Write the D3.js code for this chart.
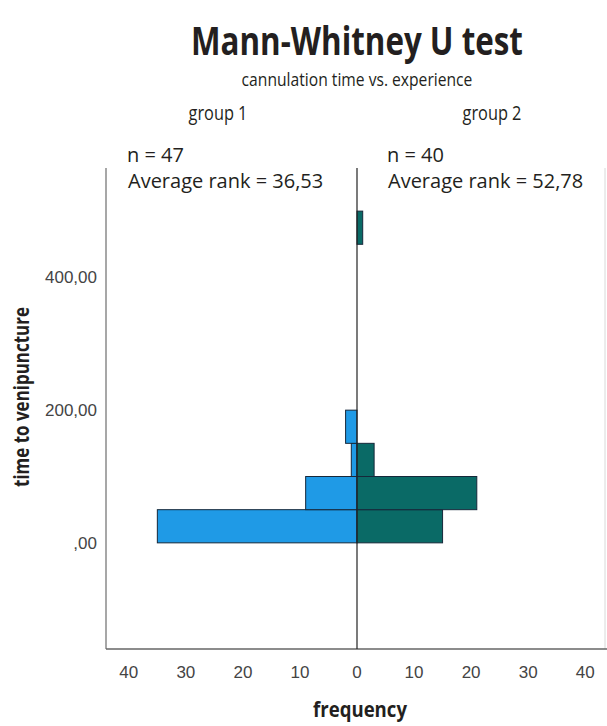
<!DOCTYPE html>
<html>
<head>
<meta charset="utf-8">
<script src="https://cdn.jsdelivr.net/npm/d3@7"></script>
<style>
  body { margin: 0; background: #fff; }
  svg { display: block; }
</style>
</head>
<body>
<div id="chart"></div>
<script>
// bins of time to venipuncture (width 50)
const binStarts = [0, 50, 100, 150, 200, 250, 300, 350, 400, 450];
const binWidth = 50;
const group1Counts = [35, 9, 1, 2, 0, 0, 0, 0, 0, 0];
const group2Counts = [15, 21, 3, 0, 0, 0, 0, 0, 0, 1];
const yTicks = [0, 200, 400];
const yTickLabels = [",00", "200,00", "400,00"];
const xTicks = [-40, -30, -20, -10, 0, 10, 20, 30, 40];
const groupNames = ["group 1", "group 2"];
const groupN = ["n = 47", "n = 40"];
const groupRanks = ["Average rank = 36,53", "Average rank = 52,78"];

const W = 607, H = 726;
const plot = { left: 106, right: 605, top: 168, bottom: 649 };

const svg = d3.select("#chart").append("svg")
    .attr("width", W)
    .attr("height", H);

const x = d3.scaleLinear().domain([-44, 44]).range([plot.left, 608]);
const y = d3.scaleLinear().domain([-160, 565]).range([plot.bottom, plot.top]);

const condensed = "'Open Sans', 'Noto Sans', sans-serif";

// squeeze a centered text horizontally to a target width (condensed look)
function condensedText(cx, cy, str, size, weight, width, rotate) {
    const g = svg.append("g");
    const t = g.append("text")
        .attr("text-anchor", "middle")
        .style("font-family", condensed).style("font-weight", weight)
        .style("font-size", size + "px").style("fill", "#231f20")
        .text(str);
    const k = width / t.node().getComputedTextLength();
    g.attr("transform", `translate(${cx},${cy})` + (rotate ? ` rotate(${rotate})` : "") + ` scale(${k},1)`);
    return t;
}

// titles
condensedText(357, 55, "Mann-Whitney U test", 40, 700, 332);
condensedText(357, 86, "cannulation time vs. experience", 19, 400, 231);
const groupX = [218, 492];
groupNames.forEach((g, i) => condensedText(groupX[i], 120, g, 19.5, 400, 59));

// plot frame
svg.append("line")
    .attr("x1", plot.right).attr("x2", plot.right)
    .attr("y1", plot.top).attr("y2", plot.bottom)
    .attr("stroke", "#d8d8d8").attr("stroke-width", 1);
svg.append("line")
    .attr("x1", plot.left).attr("x2", plot.left)
    .attr("y1", plot.top).attr("y2", plot.bottom)
    .attr("stroke", "#8a8a8a").attr("stroke-width", 1.5);
svg.append("line")
    .attr("x1", plot.left).attr("x2", W)
    .attr("y1", plot.bottom).attr("y2", plot.bottom)
    .attr("stroke", "#666").attr("stroke-width", 1.5);

// bars
const rows = binStarts.map((b, i) => ({ b, g1: group1Counts[i], g2: group2Counts[i] }));

svg.append("g").selectAll("rect")
    .data(rows.filter(d => d.g1 > 0))
    .join("rect")
    .attr("x", d => x(-d.g1))
    .attr("width", d => x(0) - x(-d.g1))
    .attr("y", d => y(d.b + binWidth))
    .attr("height", d => y(d.b) - y(d.b + binWidth))
    .attr("fill", "#1f9ae6")
    .attr("stroke", "#16283a").attr("stroke-width", 1);

svg.append("g").selectAll("rect")
    .data(rows.filter(d => d.g2 > 0))
    .join("rect")
    .attr("x", x(0))
    .attr("width", d => x(d.g2) - x(0))
    .attr("y", d => y(d.b + binWidth))
    .attr("height", d => y(d.b) - y(d.b + binWidth))
    .attr("fill", "#0a6a66")
    .attr("stroke", "#16283a").attr("stroke-width", 1);

// center line
svg.append("line")
    .attr("x1", x(0)).attr("x2", x(0))
    .attr("y1", plot.top).attr("y2", plot.bottom)
    .attr("stroke", "#222").attr("stroke-width", 1.2);

// annotations
const annX = [127, 387];
groupN.forEach((t, i) => {
    svg.append("text")
        .attr("x", annX[i]).attr("y", 162)
        .style("font-family", "'Open Sans', sans-serif")
        .style("font-size", "20px").style("fill", "#231f20")
        .text(t);
    svg.append("text")
        .attr("x", annX[i] + 1).attr("y", 188)
        .style("font-family", "'Open Sans', sans-serif")
        .style("font-size", "20px").style("fill", "#231f20")
        .text(groupRanks[i]);
});

// y tick labels
svg.append("g").selectAll("text")
    .data(yTicks)
    .join("text")
    .attr("x", 97)
    .attr("y", d => y(d))
    .attr("dy", "0.35em")
    .attr("text-anchor", "end")
    .style("font-family", "'Liberation Sans', Arial, sans-serif")
    .style("font-size", "17px").style("fill", "#444")
    .text((d, i) => yTickLabels[i]);

// x tick labels
svg.append("g").selectAll("text")
    .data(xTicks)
    .join("text")
    .attr("x", d => x(d))
    .attr("y", 678)
    .attr("text-anchor", "middle")
    .style("font-family", "'Liberation Sans', Arial, sans-serif")
    .style("font-size", "17px").style("fill", "#444")
    .text(d => Math.abs(d));

// axis titles
condensedText(29, 397, "time to venipuncture", 21, 700, 180, -90);
condensedText(360, 717, "frequency", 21, 700, 94);
</script>
</body>
</html>
